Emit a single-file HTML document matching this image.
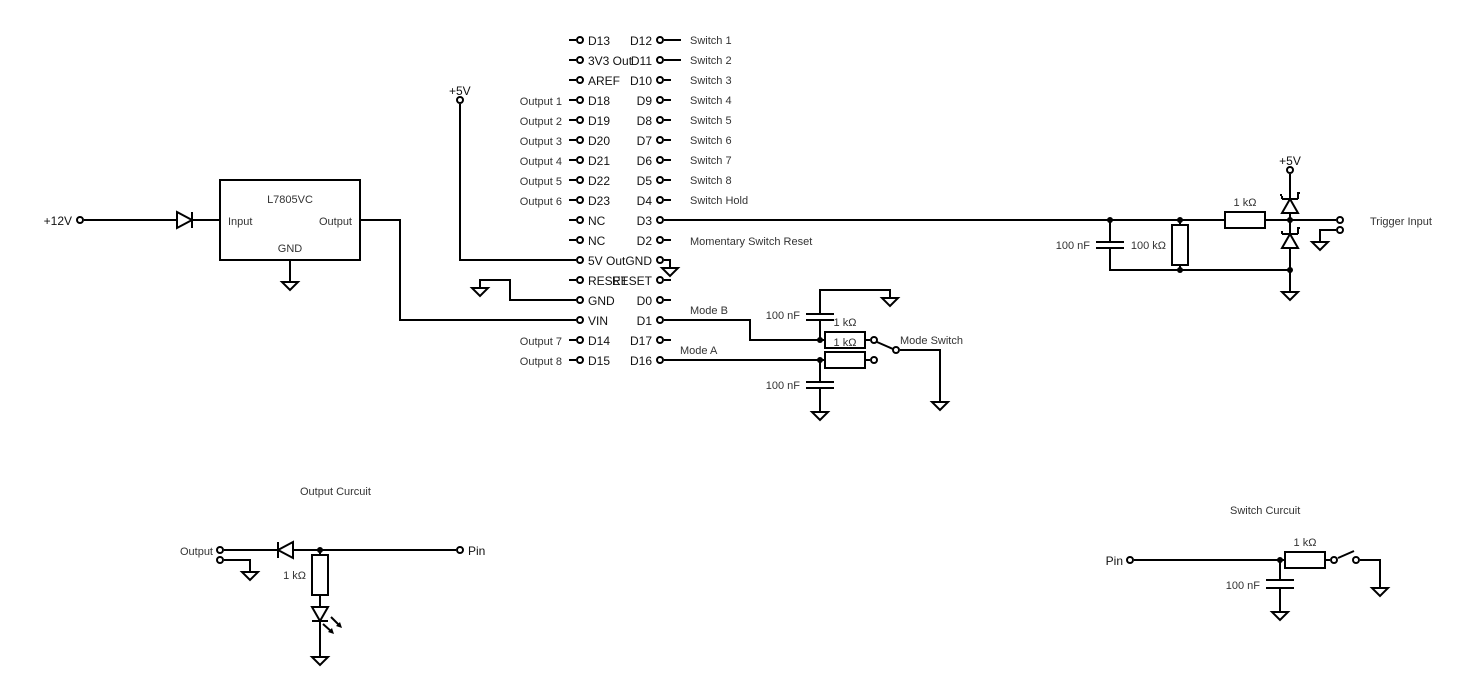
<!DOCTYPE html>
<html><head><meta charset="utf-8"><style>
html,body{margin:0;padding:0;background:#fff;}
svg{display:block;}
text{font-family:"Liberation Sans",sans-serif;}
.l{stroke:#000;stroke-width:2;fill:none;}
.p{stroke:#000;stroke-width:2;fill:#fff;}
.s{font-size:11px;fill:#333;}
.m{font-size:12px;fill:#111;}
</style></head><body>
<svg width="1480" height="700" viewBox="0 0 1480 700" xmlns="http://www.w3.org/2000/svg">
<defs>
<g id="gnd"><path class="l" d="M-8 0 H8 L0 8 Z"/></g>
</defs>

<!-- header left pins -->
<g>
<path class="l" d="M569 40H576M569 60H576M569 80H576M569 100H576M569 120H576M569 140H576M569 160H576M569 180H576M569 200H576M569 220H576M569 240H576M569 280H576M569 340H576M569 360H576"/>
<g class="p"><circle cx="580" cy="40" r="3"/><circle cx="580" cy="60" r="3"/><circle cx="580" cy="80" r="3"/><circle cx="580" cy="100" r="3"/><circle cx="580" cy="120" r="3"/><circle cx="580" cy="140" r="3"/><circle cx="580" cy="160" r="3"/><circle cx="580" cy="180" r="3"/><circle cx="580" cy="200" r="3"/><circle cx="580" cy="220" r="3"/><circle cx="580" cy="240" r="3"/><circle cx="580" cy="260" r="3"/><circle cx="580" cy="280" r="3"/><circle cx="580" cy="300" r="3"/><circle cx="580" cy="320" r="3"/><circle cx="580" cy="340" r="3"/><circle cx="580" cy="360" r="3"/></g>
<g class="m">
<text x="588" y="45">D13</text><text x="588" y="65">3V3 Out</text><text x="588" y="85">AREF</text><text x="588" y="105">D18</text><text x="588" y="125">D19</text><text x="588" y="145">D20</text><text x="588" y="165">D21</text><text x="588" y="185">D22</text><text x="588" y="205">D23</text><text x="588" y="225">NC</text><text x="588" y="245">NC</text><text x="588" y="265">5V Out</text><text x="588" y="285">RESET</text><text x="588" y="305">GND</text><text x="588" y="325">VIN</text><text x="588" y="345">D14</text><text x="588" y="365">D15</text>
</g>
<g class="m" text-anchor="end">
<text x="652" y="45">D12</text><text x="652" y="65">D11</text><text x="652" y="85">D10</text><text x="652" y="105">D9</text><text x="652" y="125">D8</text><text x="652" y="145">D7</text><text x="652" y="165">D6</text><text x="652" y="185">D5</text><text x="652" y="205">D4</text><text x="652" y="225">D3</text><text x="652" y="245">D2</text><text x="652" y="265">GND</text><text x="652" y="285">RESET</text><text x="652" y="305">D0</text><text x="652" y="325">D1</text><text x="652" y="345">D17</text><text x="652" y="365">D16</text>
</g>
<path class="l" d="M664 40H681M664 60H681M664 80H671M664 100H671M664 120H671M664 140H671M664 160H671M664 180H671M664 200H671M664 240H671M664 280H671M664 300H671M664 340H671"/>
<g class="p"><circle cx="660" cy="40" r="3"/><circle cx="660" cy="60" r="3"/><circle cx="660" cy="80" r="3"/><circle cx="660" cy="100" r="3"/><circle cx="660" cy="120" r="3"/><circle cx="660" cy="140" r="3"/><circle cx="660" cy="160" r="3"/><circle cx="660" cy="180" r="3"/><circle cx="660" cy="200" r="3"/><circle cx="660" cy="220" r="3"/><circle cx="660" cy="240" r="3"/><circle cx="660" cy="260" r="3"/><circle cx="660" cy="280" r="3"/><circle cx="660" cy="300" r="3"/><circle cx="660" cy="320" r="3"/><circle cx="660" cy="340" r="3"/><circle cx="660" cy="360" r="3"/></g>
<g class="s">
<text x="690" y="44">Switch 1</text><text x="690" y="64">Switch 2</text><text x="690" y="84">Switch 3</text><text x="690" y="104">Switch 4</text><text x="690" y="124">Switch 5</text><text x="690" y="144">Switch 6</text><text x="690" y="164">Switch 7</text><text x="690" y="184">Switch 8</text><text x="690" y="204">Switch Hold</text><text x="690" y="245">Momentary Switch Reset</text>
</g>
<g class="s" text-anchor="end">
<text x="562" y="105">Output 1</text><text x="562" y="125">Output 2</text><text x="562" y="145">Output 3</text><text x="562" y="165">Output 4</text><text x="562" y="185">Output 5</text><text x="562" y="205">Output 6</text><text x="562" y="345">Output 7</text><text x="562" y="365">Output 8</text>
</g>
</g>

<!-- +5V rail -->
<text class="m" x="449" y="95">+5V</text>
<path class="l" d="M460 104V260H576"/>
<circle class="p" cx="460" cy="100" r="3"/>
<!-- GND pin -> ground -->
<path class="l" d="M664 260H670V268"/>
<use href="#gnd" x="670" y="268"/>
<!-- left GND pin ground -->
<path class="l" d="M480 288V280H510V300H576"/>
<use href="#gnd" x="480" y="288"/>
<!-- VIN -->
<path class="l" d="M360 220H400V320H576"/>

<!-- regulator -->
<rect class="l" x="220" y="180" width="140" height="80"/>
<text class="s" x="290" y="203" text-anchor="middle">L7805VC</text>
<text class="s" x="228" y="225">Input</text>
<text class="s" x="352" y="225" text-anchor="end">Output</text>
<text class="s" x="290" y="252" text-anchor="middle">GND</text>
<path class="l" d="M290 260V282"/>
<use href="#gnd" x="290" y="282"/>
<text class="m" x="72" y="225" text-anchor="end">+12V</text>
<path class="l" d="M84 220H220"/>
<path d="M177 212L192 220L177 228Z" fill="#fff" stroke="#000" stroke-width="2"/>
<path class="l" d="M192 212V228"/>
<circle class="p" cx="80" cy="220" r="3"/>

<!-- D3 trigger network -->
<path class="l" d="M664 220H1225M1265 220H1336"/>
<rect class="l" x="1225" y="212" width="40" height="16"/>
<text class="s" x="1245" y="206" text-anchor="middle">1 kΩ</text>
<path class="l" d="M1110 220V242M1096 242H1124M1096 248H1124M1110 248V270H1290"/>
<text class="s" x="1090" y="249" text-anchor="end">100 nF</text>
<path class="l" d="M1180 220V225M1180 265V270"/>
<rect class="l" x="1172" y="225" width="16" height="40"/>
<text class="s" x="1166" y="249" text-anchor="end">100 kΩ</text>
<circle cx="1110" cy="220" r="3"/><circle cx="1180" cy="220" r="3"/><circle cx="1180" cy="270" r="3"/><circle cx="1290" cy="270" r="3"/><circle cx="1290" cy="220" r="3"/>
<path class="l" d="M1290 174V292"/>
<use href="#gnd" x="1290" y="292"/>
<text class="m" x="1290" y="165" text-anchor="middle">+5V</text>
<circle class="p" cx="1290" cy="170" r="3"/>
<path d="M1290 199L1298 213H1282Z" fill="#fff" stroke="#000" stroke-width="2"/>
<path class="l" d="M1282 199H1298M1282 199V196M1298 199V193H1300" stroke-width="1.5"/>
<path class="l" d="M1282 195H1280" stroke-width="1.5"/>
<path d="M1290 234L1298 248H1282Z" fill="#fff" stroke="#000" stroke-width="2"/>
<path class="l" d="M1282 234H1298M1282 234V231M1298 234V228H1300" stroke-width="1.5"/>
<circle class="p" cx="1340" cy="220" r="3"/>
<path class="l" d="M1336 230H1320V242"/>
<use href="#gnd" x="1320" y="242"/>
<circle class="p" cx="1340" cy="230" r="3"/>
<text class="s" x="1370" y="225">Trigger Input</text>

<!-- mode network -->
<path class="l" d="M664 320H750V340H825M664 360H825"/>
<text class="s" x="690" y="314">Mode B</text>
<text class="s" x="680" y="354">Mode A</text>
<path class="l" d="M820 340V320M806 320H834M806 314H834M820 314V290H890V298"/>
<use href="#gnd" x="890" y="298"/>
<text class="s" x="800" y="319" text-anchor="end">100 nF</text>
<rect class="l" x="825" y="332" width="40" height="16"/>
<rect class="l" x="825" y="352" width="40" height="16"/>
<text class="s" x="845" y="326" text-anchor="middle">1 kΩ</text>
<text class="s" x="845" y="346" text-anchor="middle">1 kΩ</text>
<path class="l" d="M865 340H870M865 360H870M877 342L893 349M900 350H940V402"/>
<use href="#gnd" x="940" y="402"/>
<circle class="p" cx="874" cy="340" r="3"/><circle class="p" cx="874" cy="360" r="3"/><circle class="p" cx="896" cy="350" r="3"/>
<text class="s" x="900" y="344">Mode Switch</text>
<path class="l" d="M820 360V382M806 382H834M806 388H834M820 388V412"/>
<use href="#gnd" x="820" y="412"/>
<text class="s" x="800" y="389" text-anchor="end">100 nF</text>
<circle cx="820" cy="340" r="3"/><circle cx="820" cy="360" r="3"/>

<!-- output circuit -->
<text class="s" x="300" y="495">Output Curcuit</text>
<text class="s" x="213" y="555" text-anchor="end">Output</text>
<path class="l" d="M224 550H456M224 560H250V572"/>
<use href="#gnd" x="250" y="572"/>
<circle class="p" cx="220" cy="550" r="3"/><circle class="p" cx="220" cy="560" r="3"/>
<path d="M293 542L278 550L293 558Z" fill="#fff" stroke="#000" stroke-width="2"/>
<path class="l" d="M278 542V558"/>
<circle cx="320" cy="550" r="3"/>
<circle class="p" cx="460" cy="550" r="3"/>
<text class="m" x="468" y="555">Pin</text>
<path class="l" d="M320 550V555M320 595V657"/>
<rect class="l" x="312" y="555" width="16" height="40"/>
<text class="s" x="306" y="579" text-anchor="end">1 kΩ</text>
<path d="M312 607H328L320 621Z" fill="#fff" stroke="#000" stroke-width="2"/>
<path class="l" d="M312 621H328"/>
<path class="l" d="M323 624L332 632M331 617L340 626" stroke-width="1.5"/>
<path d="M334 634L328 632L332 628Z M342 628L336 626L340 622Z" fill="#000"/>
<use href="#gnd" x="320" y="657"/>

<!-- switch circuit -->
<text class="s" x="1230" y="514">Switch Curcuit</text>
<text class="m" x="1123" y="565" text-anchor="end">Pin</text>
<path class="l" d="M1134 560H1285M1325 560H1330M1338 558L1354 551M1360 560H1380V588"/>
<use href="#gnd" x="1380" y="588"/>
<circle class="p" cx="1130" cy="560" r="3"/>
<rect class="l" x="1285" y="552" width="40" height="16"/>
<text class="s" x="1305" y="546" text-anchor="middle">1 kΩ</text>
<circle class="p" cx="1334" cy="560" r="3"/><circle class="p" cx="1356" cy="560" r="3"/>
<circle cx="1280" cy="560" r="3"/>
<path class="l" d="M1280 560V580M1266 580H1294M1266 588H1294M1280 588V612"/>
<use href="#gnd" x="1280" y="612"/>
<text class="s" x="1260" y="589" text-anchor="end">100 nF</text>
</svg>
</body></html>
